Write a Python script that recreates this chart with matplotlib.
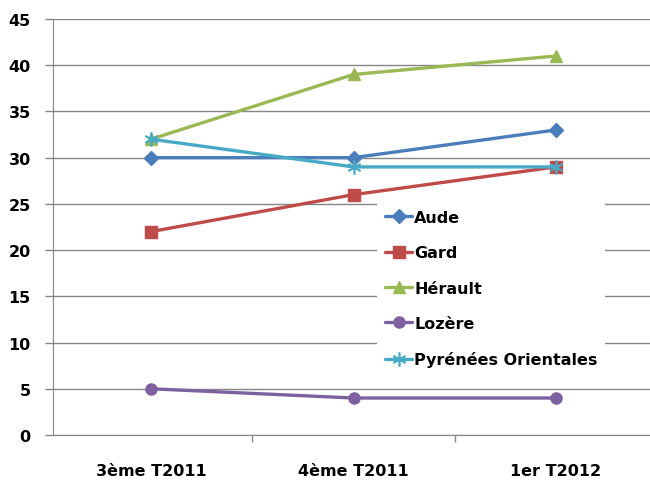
import matplotlib
matplotlib.use("Agg")
import matplotlib.pyplot as plt

categories = ["3ème T2011", "4ème T2011", "1er T2012"]
aude = [30, 30, 33]
gard = [22, 26, 29]
herault = [32, 39, 41]
lozere = [5, 4, 4]
pyrenees = [32, 29, 29]
y_ticks = [0, 5, 10, 15, 20, 25, 30, 35, 40, 45]

FONT = ['DejaVu Sans']
plt.rcParams['font.family'] = FONT
plt.rcParams['font.weight'] = 'bold'
FS = 11.5

fig = plt.figure(figsize=(6.5, 4.81), dpi=100)
W, H = 650, 481
left, right = 53, 650
top, bottom = 20, 436
ax = fig.add_axes([left / W, (H - bottom) / H, (right - left) / W, (bottom - top) / H])

x = list(range(len(categories)))
series = [
    ("Aude", aude, "#4A7EBB", "D", 7),
    ("Gard", gard, "#BE4B48", "s", 8),
    ("Hérault", herault, "#98B954", "^", 8),
    ("Lozère", lozere, "#7D60A0", "o", 8),
    ("Pyrénées Orientales", pyrenees, "#46AAC5", (6, 2, 0), 10),
]
for name, vals, col, mk, ms in series:
    ax.plot(x, vals, color=col, lw=2.4, marker=mk, markersize=ms,
            markerfacecolor=col, markeredgecolor=col,
            markeredgewidth=1.2 if mk == (6, 2, 0) else 1, label=name,
            solid_capstyle='round', zorder=3)

ax.set_ylim(0, 45)
ax.set_yticks(y_ticks)
ax.set_xlim(-0.484, 2.464)
ax.set_xticks(x)
ax.set_xticklabels(categories, fontsize=FS, fontweight='bold')
ax.tick_params(axis='x', length=0, pad=20)
ax.set_xticks([0.5, 1.5], minor=True)
ax.tick_params(axis='x', which='minor', length=5, color='#868686', width=1, direction='out')
ax.tick_params(axis='y', length=6, color='#868686', width=1, labelsize=FS, pad=10)
for lbl in ax.get_yticklabels():
    lbl.set_fontweight('bold')

ax.grid(axis='y', color='#868686', lw=1)
ax.set_axisbelow(True)
for s in ['top', 'right']:
    ax.spines[s].set_visible(False)
ax.spines['left'].set_color('#868686')
ax.spines['bottom'].set_color('#868686')

leg = ax.legend(loc='upper left', bbox_to_anchor=(377 / W, (H - 203) / H),
                bbox_transform=fig.transFigure, frameon=True, fancybox=False,
                edgecolor='none', facecolor='white', framealpha=1,
                prop={'family': FONT, 'weight': 'bold', 'size': FS},
                handlelength=1.7, handletextpad=0.12, labelspacing=1.27,
                borderpad=0.5, borderaxespad=0)
leg.set_zorder(5)

fig.savefig("out.png", dpi=100)
